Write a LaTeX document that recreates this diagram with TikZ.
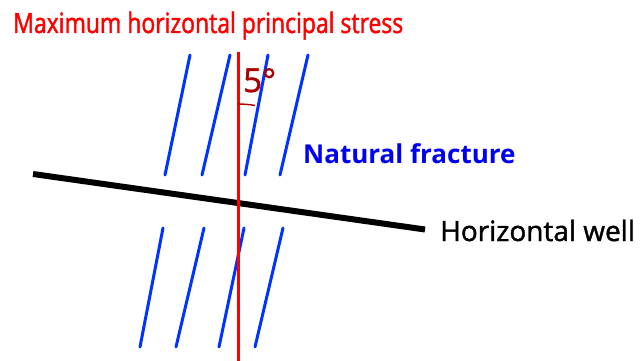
\documentclass[tikz,border=0pt]{standalone}
\usepackage{fontspec}
\setmainfont{Open Sans}
\newfontfamily\titlefont[FakeStretch=0.82,FakeBold=1.6]{Open Sans}
\newfontfamily\mediumfont[FakeBold=1.4]{Open Sans}
\definecolor{stressred}{RGB}{255,0,0}
\definecolor{anglered}{RGB}{170,0,0}
\definecolor{fractureblue}{RGB}{0,51,255}
\definecolor{labelblue}{RGB}{0,0,240}
\tikzset{
  fracture/.style={fractureblue,line width=3pt,line cap=round},
  well/.style={black,line width=6pt},
  stress/.style={stressred,line width=3pt},
  lbl/.style={anchor=base west,inner sep=0pt}
}
\begin{document}
\begin{tikzpicture}[x=1pt,y=-1pt]
\useasboundingbox (0,0) rectangle (643,361);
% upper set of natural fractures
\foreach \xt/\xb in {190/165,230/202,268/245,308/280}
  \draw[fracture] (\xt,55) -- (\xb,175);
% lower set
\foreach \xt/\xb in {163/140,204/176,244/219,283/255}
  \draw[fracture] (\xt,228) -- (\xb,347);

\draw[well] (33,174) -- (425,229.5);
\draw[stress] (238,52) -- (238,361);
\draw[anglered,line width=1.4pt] (238,104) arc[start angle=90,end angle=80,radius=99pt];

\node[lbl,stressred,font=\titlefont\fontsize{28}{28}\selectfont] (title) at (13,33) {Maximum horizontal principal stress};
\node[lbl,anglered,font=\mediumfont\fontsize{33}{33}\selectfont] (angle) at (243,92) {5°};
\node[lbl,labelblue,font=\bfseries\fontsize{26}{26}\selectfont] (fracturelbl) at (303,163) {Natural fracture};
\node[lbl,font=\mediumfont\fontsize{28}{28}\selectfont] (welllbl) at (440,241) {Horizontal well};
\end{tikzpicture}
\end{document}
